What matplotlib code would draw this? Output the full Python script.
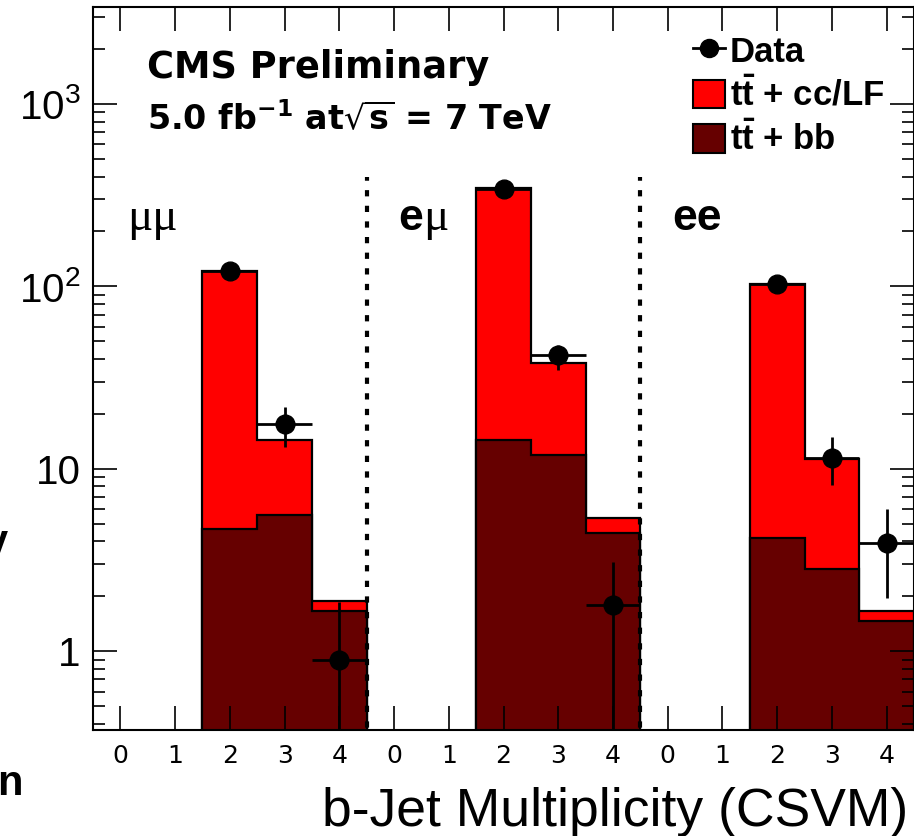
import numpy as np
import matplotlib
matplotlib.use('Agg')
import matplotlib.pyplot as plt
from matplotlib.lines import Line2D
from matplotlib.patches import Patch
from matplotlib.font_manager import FontProperties
from matplotlib.ticker import FixedLocator, FixedFormatter, LogLocator, NullFormatter

# 15 bins: 3 channels (mumu, emu, ee) x b-jet multiplicity 0..4
channels = ['mumu', 'emu', 'ee']
tick_labels = ['0', '1', '2', '3', '4'] * 3

# stacked MC: ttbar + bb (bottom), ttbar + cc/LF (on top)
tt_bb = [0, 0, 4.67, 5.57, 1.66,
         0, 0, 14.4, 11.9, 4.44,
         0, 0, 4.17, 2.82, 1.46]
tt_cclf = [0, 0, 117.3, 8.8, 0.22,
           0, 0, 330.6, 25.9, 0.93,
           0, 0, 98.4, 8.5, 0.20]

# data with error band (lower / upper end of the bar)
data = [np.nan, np.nan, 121, 17.7, 0.90,
        np.nan, np.nan, 340, 41.8, 1.79,
        np.nan, np.nan, 103, 11.5, 3.9]
data_lo = [np.nan, np.nan, 110, 13.2, 0,
           np.nan, np.nan, 322, 35.0, 0,
           np.nan, np.nan, 93, 8.1, 1.95]
data_hi = [np.nan, np.nan, 132, 21.7, 1.86,
           np.nan, np.nan, 358, 48.0, 3.08,
           np.nan, np.nan, 113, 14.9, 6.0]

RED = '#ff0000'
DARK = '#660000'
YMIN, YMAX = 0.37, 3400

fig = plt.figure(figsize=(9.14, 8.36), dpi=100)
ax = fig.add_axes([93 / 914, 106 / 836, 821 / 914, 723 / 836])

bb = np.array(tt_bb)
top = bb + np.array(tt_cclf)

for c in range(3):
    idx = np.arange(5 * c, 5 * c + 5)
    idx = idx[bb[idx] > 0]
    edges = np.append(idx, idx[-1] + 1)
    ax.stairs(top[idx], edges, baseline=1e-3, fill=True,
              facecolor=RED, edgecolor='black', linewidth=1.6)
    ax.stairs(bb[idx], edges, baseline=1e-3, fill=True,
              facecolor=DARK, edgecolor='black', linewidth=1.6)

# channel separators
ax.vlines([5, 10], 1e-3, 400, colors='black', linewidth=3,
          linestyles=(0, (1.5, 2.25)), zorder=4)

y = np.array(data)
x = np.arange(15) + 0.5
ok = ~np.isnan(y)
yerr = [y[ok] - np.array(data_lo)[ok], np.array(data_hi)[ok] - y[ok]]
ax.errorbar(x[ok], y[ok], xerr=0.5, yerr=yerr, fmt='o', color='black',
            ms=13.5, lw=2, capsize=0, zorder=5)

ax.set_yscale('log')
ax.set_xlim(0, 15)
ax.set_ylim(YMIN, YMAX)

ax.xaxis.set_major_locator(FixedLocator(x))
ax.xaxis.set_major_formatter(FixedFormatter(tick_labels))
ax.yaxis.set_major_locator(FixedLocator([1, 10, 100, 1000]))
ax.yaxis.set_major_formatter(FixedFormatter(
    ['1', '10', r'$\mathregular{10^{2}}$', r'$\mathregular{10^{3}}$']))
ax.yaxis.set_minor_locator(LogLocator(base=10, subs=np.arange(2, 10)))
ax.yaxis.set_minor_formatter(NullFormatter())

ax.tick_params(which='both', direction='in', top=True, right=True, width=1.2)
ax.tick_params(which='major', length=17)
ax.tick_params(which='minor', length=8.5)
ax.tick_params(axis='x', pad=10, labelsize=18)
ax.tick_params(axis='y', pad=9, labelsize=29)
for lab in ax.get_yticklabels():
    lab.set_family('Liberation Sans')
for lab in ax.get_xticklabels():
    lab.set_family('DejaVu Sans')
for s in ax.spines.values():
    s.set_linewidth(1.5)

# header
ax.text(0.0658, 0.9018, 'CMS Preliminary', transform=ax.transAxes,
        family='DejaVu Sans', weight='bold', fontsize=26.5, va='baseline')
ax.text(0.0658, 0.830,
        r'5.0 fb$^{\mathregular{-1}}$ at$\sqrt{\mathregular{s}}$ = 7 TeV',
        transform=ax.transAxes, family='DejaVu Sans', weight='bold',
        fontsize=24, va='baseline')

# channel labels
ax.text(0.0415, 0.6916, '\u03bc\u03bc', transform=ax.transAxes,
        family='Liberation Serif', fontsize=34, va='baseline')
ax.text(0.3717, 0.6916, 'e', transform=ax.transAxes,
        family='Liberation Sans', weight='bold', fontsize=32, va='baseline')
ax.text(0.4015, 0.6916, '\u03bc', transform=ax.transAxes,
        family='Liberation Serif', fontsize=34, va='baseline')
ax.text(0.7057, 0.6916, 'ee', transform=ax.transAxes,
        family='Liberation Sans', weight='bold', fontsize=32, va='baseline')

handles = [Line2D([], [], color='black', marker='o', ms=13, lw=2),
           Patch(facecolor=RED, edgecolor='black', linewidth=1.5),
           Patch(facecolor=DARK, edgecolor='black', linewidth=1.5)]
labels = ['Data', r'$\mathregular{t\bar{t}}$ + cc/LF', r'$\mathregular{t\bar{t}}$ + bb']
ax.legend(handles, labels, loc='upper left', bbox_to_anchor=(0.7313, 0.961),
          frameon=False, prop=FontProperties(family='Liberation Sans',
                                             weight='bold', size=25),
          handlelength=0.9, handleheight=0.9, handletextpad=0.15,
          labelspacing=0.25, borderpad=0, borderaxespad=0)

fig.text(908 / 914, 10 / 836, 'b-Jet Multiplicity (CSVM)', ha='right',
         va='baseline', family='Liberation Sans', fontsize=38.5)

# fragments of surrounding slide text cut at the left edge
fig.text(8 / 914, 282 / 836, 'y', ha='right', va='baseline',
         family='Liberation Sans', weight='bold', fontsize=30)
fig.text(23 / 914, 41 / 836, 'n', ha='right', va='baseline',
         family='Liberation Sans', weight='bold', fontsize=30)

fig.savefig('out.png', dpi=100)
